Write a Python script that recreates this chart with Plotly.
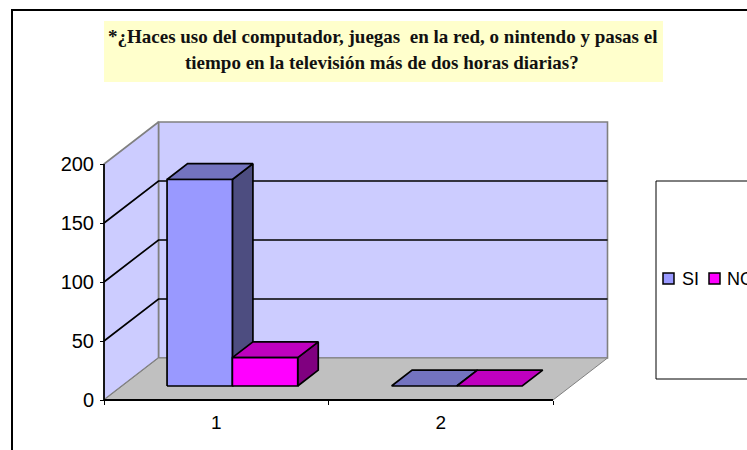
import plotly.graph_objects as go

categories = ["1", "2"]
si_values = [175, 0]
no_values = [24, 0]
value_ticks = [0, 50, 100, 150, 200]
grid_values = [50, 100, 150]
title_lines = [
    "*¿Haces uso del computador, juegas  en la red, o nintendo y pasas el",
    "tiempo en la televisión más de dos horas diarias?",
]

W, H = 747, 450
# pixel scale of the floor front edge, used to set the axis ranges
X0_PX, CAT_PX = 104, 224.5
Y0_PX, VAL_PX = 400, 1.18
# oblique projection: how far a full step into the depth moves a point, in data units
DEPTH_X = 54.5 / CAT_PX
DEPTH_Y = 42 / VAL_PX
BAR_LEFT, BAR_WIDTH = 0.2, 0.291
BAR_Z0, BAR_Z1 = 0.333, 0.71
N_CAT = len(categories)
MAX_VAL = value_ticks[-1]


def project(x, v, z=0.0):
    return x + DEPTH_X * z, v + DEPTH_Y * z


fig = go.Figure()


def face(points, fill=None, line="black", width=1.7):
    xs, ys = zip(*[project(*p) for p in points])
    fig.add_trace(go.Scatter(
        x=list(xs) + ([xs[0]] if fill else []),
        y=list(ys) + ([ys[0]] if fill else []),
        mode="lines",
        fill="toself" if fill else None,
        fillcolor=fill,
        line=dict(color=line, width=width),
        hoverinfo="skip",
        showlegend=False,
    ))


# walls and floor
face([(0, 0, 1), (N_CAT, 0, 1), (N_CAT, MAX_VAL, 1), (0, MAX_VAL, 1)], "#CCCCFF", "#808080", 1.6)
face([(0, 0, 0), (0, 0, 1), (0, MAX_VAL, 1), (0, MAX_VAL, 0)], "#CCCCFF", "#808080", 1.6)
face([(0, 0, 0), (N_CAT, 0, 0), (N_CAT, 0, 1), (0, 0, 1)], "#C0C0C0", "#808080", 1)

# gridlines
for v in grid_values:
    face([(0, v, 0), (0, v, 1), (N_CAT, v, 1)])

# axis lines
face([(0, 0, 0), (0, MAX_VAL, 0)])
face([(0, 0, 0), (N_CAT, 0, 0)], width=2)


def bar(cat, slot, value, front, top, side):
    x0 = cat + BAR_LEFT + slot * BAR_WIDTH
    x1 = x0 + BAR_WIDTH
    z0, z1 = BAR_Z0, BAR_Z1
    if value > 0:
        face([(x1, 0, z0), (x1, 0, z1), (x1, value, z1), (x1, value, z0)], side)
    face([(x0, value, z0), (x1, value, z0), (x1, value, z1), (x0, value, z1)], top)
    if value > 0:
        face([(x0, 0, z0), (x1, 0, z0), (x1, value, z0), (x0, value, z0)], front)


for i in range(N_CAT):
    bar(i, 0, si_values[i], "#9999FF", "#7373BF", "#4D4D80")
    bar(i, 1, no_values[i], "#FF00FF", "#BF00BF", "#800080")


def paper_x(px):
    return px / W


def paper_y(px):
    return 1 - px / H


def rect(x0, y0, x1, y1, fill=None, line="black", width=1):
    fig.add_shape(
        type="rect", xref="paper", yref="paper", layer="below",
        x0=paper_x(x0), x1=paper_x(x1), y0=paper_y(y0), y1=paper_y(y1),
        fillcolor=fill, line=dict(color=line, width=width),
    )


def text(x, y, s, size, family, anchor="center", color="black"):
    fig.add_annotation(
        xref="paper", yref="paper", x=paper_x(x), y=paper_y(y), text=s,
        showarrow=False, xanchor=anchor, yanchor="middle",
        font=dict(size=size, family=family, color=color),
    )


# outer frame runs off the right and bottom of the picture
rect(12, 10, 800, 520, None, "black", 2)

# title box
rect(104, 21, 663, 82, "#FFFFCC", "#FFFFCC", 0)
text(382, 37, "<b>" + title_lines[0] + "</b>", 19, "Liberation Serif", color="#111111")
text(382, 62, "<b>" + title_lines[1] + "</b>", 19, "Liberation Serif", color="#111111")

# legend box, cut by the right edge like the original
rect(656, 181, 800, 379, "white", "black", 1)
rect(663, 273, 674, 284, "#9999FF", "black", 1.5)
rect(709, 273, 720, 284, "#FF00FF", "black", 1.5)
text(680, 279, "SI", 18, "Liberation Sans", "left")
text(725, 279, "NO", 18, "Liberation Sans", "left")

fig.update_layout(
    width=W,
    height=H,
    margin=dict(l=0, r=0, t=0, b=0),
    paper_bgcolor="white",
    plot_bgcolor="rgba(0,0,0,0)",
    showlegend=False,
    font=dict(family="Liberation Sans", color="black"),
    xaxis=dict(
        range=[(0 - X0_PX) / CAT_PX, (W - X0_PX) / CAT_PX],
        anchor="free",
        position=(H - Y0_PX) / H,
        showgrid=False,
        zeroline=False,
        tickmode="array",
        tickvals=[i + 0.5 for i in range(N_CAT)],
        ticktext=categories,
        ticks="",
        ticklabelstandoff=9,
        tickfont=dict(size=19),
        minor=dict(tickmode="array", tickvals=list(range(N_CAT + 1)), ticks="outside",
                   ticklen=4, tickcolor="black", tickwidth=1, showgrid=False),
    ),
    yaxis=dict(
        range=[-(H - Y0_PX) / VAL_PX, Y0_PX / VAL_PX],
        anchor="free",
        position=X0_PX / W,
        showgrid=False,
        zeroline=False,
        tickmode="array",
        tickvals=value_ticks,
        ticks="outside",
        ticklen=4,
        tickcolor="black",
        ticklabelstandoff=2,
        tickfont=dict(size=20),
    ),
)

fig.write_html("out.html", config={"displayModeBar": False},
               post_script="document.body.style.margin='0';")
